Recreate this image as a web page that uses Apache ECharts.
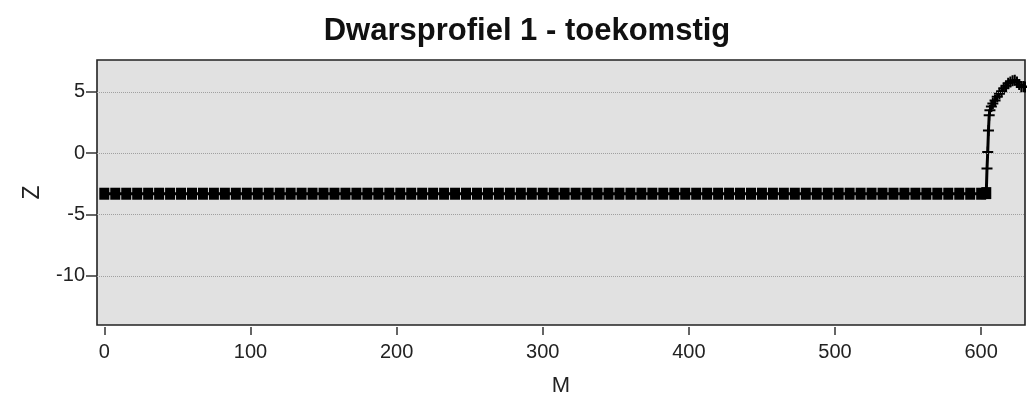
<!DOCTYPE html>
<html>
<head>
<meta charset="utf-8">
<script src="https://cdn.jsdelivr.net/npm/echarts@6/dist/echarts.min.js"></script>
<style>
html,body{margin:0;padding:0;background:#fff;}
#chart{width:1027px;height:399px;}
</style>
</head>
<body>
<div id="chart"></div>
<script>
const titleText = 'Dwarsprofiel 1 - toekomstig';
const xName = 'M';
const yName = 'Z';
const xTicks = [0, 100, 200, 300, 400, 500, 600];
const yTicks = [-10, -5, 0, 5];

const distanceM = [
  0, 7.5, 15, 22.5, 30, 37.5, 45, 52.5, 60, 67.5, 75, 82.5, 90, 97.5, 105, 112.5, 120, 127.5, 135, 142.5,
  150, 157.5, 165, 172.5, 180, 187.5, 195, 202.5, 210, 217.5, 225, 232.5, 240, 247.5, 255, 262.5, 270, 277.5, 285, 292.5,
  300, 307.5, 315, 322.5, 330, 337.5, 345, 352.5, 360, 367.5, 375, 382.5, 390, 397.5, 405, 412.5, 420, 427.5, 435, 442.5,
  450, 457.5, 465, 472.5, 480, 487.5, 495, 502.5, 510, 517.5, 525, 532.5, 540, 547.5, 555, 562.5, 570, 577.5, 585, 592.5,
  600, 603.5,
  604, 604.5, 605, 605.5, 606, 607, 608, 609.5, 611, 612.5, 614, 615.5, 617, 618.5, 620, 621.5, 623, 624.5, 626, 627.5, 629, 630
];
const elevationZ = [
  -3.3, -3.3, -3.3, -3.3, -3.3, -3.3, -3.3, -3.3, -3.3, -3.3, -3.3, -3.3, -3.3, -3.3, -3.3, -3.3, -3.3, -3.3, -3.3, -3.3,
  -3.3, -3.3, -3.3, -3.3, -3.3, -3.3, -3.3, -3.3, -3.3, -3.3, -3.3, -3.3, -3.3, -3.3, -3.3, -3.3, -3.3, -3.3, -3.3, -3.3,
  -3.3, -3.3, -3.3, -3.3, -3.3, -3.3, -3.3, -3.3, -3.3, -3.3, -3.3, -3.3, -3.3, -3.3, -3.3, -3.3, -3.3, -3.3, -3.3, -3.3,
  -3.3, -3.3, -3.3, -3.3, -3.3, -3.3, -3.3, -3.3, -3.3, -3.3, -3.3, -3.3, -3.3, -3.3, -3.3, -3.3, -3.3, -3.3, -3.3, -3.3,
  -3.3, -3.25,
  -1.25, 0.1, 1.85, 3.1, 3.5, 3.8, 4.05, 4.3, 4.6, 4.85, 5.05, 5.3, 5.5, 5.7, 5.8, 5.9, 5.95, 5.8, 5.6, 5.4, 5.45, 5.4
];

const points = distanceM.map((m, i) => [m, elevationZ[i]]);
const plusPath = 'path://M0,4.5H11V6.5H0Z M4.5,0H6.5V11H4.5Z';
const font = 'Liberation Sans, Arial, sans-serif';

const chart = echarts.init(document.getElementById('chart'), null, {renderer: 'canvas'});
chart.setOption({
  backgroundColor: '#ffffff',
  animation: false,
  title: {
    text: titleText,
    left: 522,
    top: 11,
    textAlign: 'center',
    textStyle: {fontFamily: font, fontWeight: 'bold', fontSize: 31, color: '#111'}
  },
  grid: {
    left: 97, right: 2, top: 60, bottom: 74,
    outerBoundsMode: 'none',
    containLabel: false,
    show: true, backgroundColor: '#e1e1e1', borderColor: '#222', borderWidth: 1.6
  },
  xAxis: {
    type: 'value', min: -5, max: 630,
    offset: 2,
    axisLine: {show: false, onZero: false},
    axisTick: {show: true, customValues: xTicks, length: 8, lineStyle: {color: '#333', width: 1.5}},
    axisLabel: {customValues: xTicks, fontFamily: font, fontSize: 20, color: '#222', margin: 15},
    splitLine: {show: false},
    name: xName, nameLocation: 'middle', nameGap: 48,
    nameTextStyle: {fontFamily: font, fontSize: 22, color: '#222'}
  },
  yAxis: {
    type: 'value', min: -14, max: 7.6,
    axisLine: {show: false, onZero: false},
    axisTick: {show: true, customValues: yTicks, length: 11, lineStyle: {color: '#333', width: 1.5}},
    axisLabel: {customValues: yTicks, fontFamily: font, fontSize: 20, color: '#222', margin: 12},
    splitLine: {show: false},
    name: yName, nameLocation: 'middle', nameGap: 53, nameRotate: 90,
    nameTextStyle: {fontFamily: font, fontSize: 23, color: '#222'}
  },
  series: [
    {
      type: 'line', data: [], z: 1, silent: true,
      markLine: {
        silent: true, symbol: 'none', animation: false,
        label: {show: false},
        lineStyle: {type: 'dotted', color: '#a0a0a0', width: 1},
        data: yTicks.map(v => ({yAxis: v}))
      }
    },
    {
      type: 'line', z: 3,
      data: points,
      lineStyle: {color: '#000', width: 3},
      itemStyle: {color: '#000'},
      symbol: v => (v[1] <= -3 ? 'rect' : plusPath),
      symbolSize: v => (v[1] <= -3 ? [10, 12] : 11),
      showAllSymbol: true,
      clip: true
    }
  ]
});
</script>
</body>
</html>
